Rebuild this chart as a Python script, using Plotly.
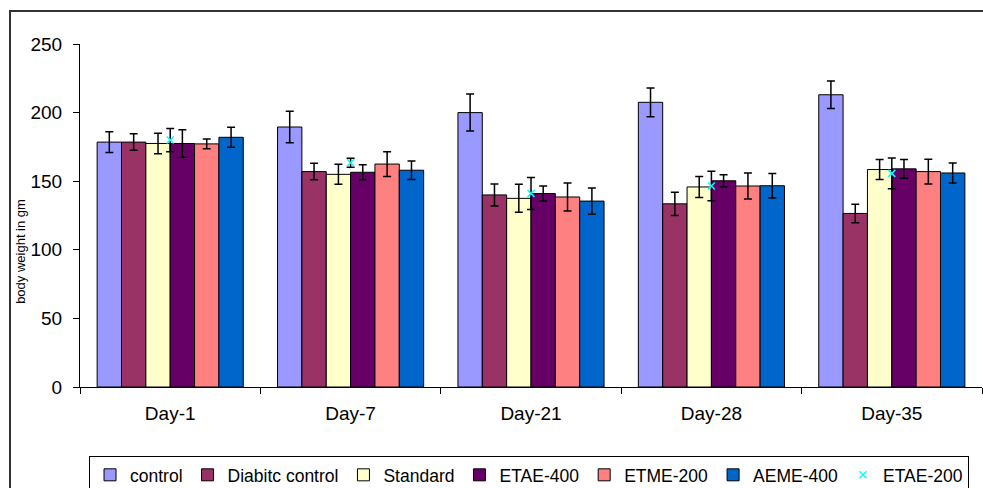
import plotly.graph_objects as go

days = ["Day-1", "Day-7", "Day-21", "Day-28", "Day-35"]

control = [178.5, 189.5, 200.0, 207.5, 213.0]
control_err = [7.5, 11.5, 13.5, 10.5, 10.0]
diabitc = [178.5, 157.0, 140.0, 133.5, 126.5]
diabitc_err = [6.0, 6.0, 8.0, 8.5, 6.7]
standard = [177.5, 155.0, 137.5, 145.8, 158.5]
standard_err = [7.5, 7.3, 10.2, 7.7, 7.3]
etae400 = [177.5, 156.5, 141.0, 150.3, 159.0]
etae400_err = [10.0, 5.5, 5.5, 4.4, 6.8]
etme200 = [177.2, 162.5, 138.5, 146.5, 157.0]
etme200_err = [3.5, 9.0, 10.2, 9.5, 9.0]
aeme400 = [182.0, 158.0, 135.5, 146.7, 156.0]
aeme400_err = [7.3, 6.7, 9.6, 9.0, 7.3]
etae200 = [180.0, 163.5, 141.0, 146.5, 155.7]
etae200_err = [8.5, 3.3, 11.7, 10.8, 11.2]

y_ticks = [0, 50, 100, 150, 200, 250]

bar_series = [
    ("control", control, control_err, "#9999FF"),
    ("Diabitc control", diabitc, diabitc_err, "#993366"),
    ("Standard", standard, standard_err, "#FFFFCC"),
    ("ETAE-400", etae400, etae400_err, "#660066"),
    ("ETME-200", etme200, etme200_err, "#FF8080"),
    ("AEME-400", aeme400, aeme400_err, "#0066CC"),
]

fig = go.Figure()
for name, vals, errs, col in bar_series:
    fig.add_trace(go.Bar(
        x=days, y=vals, name=name,
        marker=dict(color=col, line=dict(color="black", width=1)),
        error_y=dict(type="data", array=errs, visible=True,
                     color="black", thickness=1.5, width=4),
    ))

fig.add_trace(go.Scatter(
    x=days, y=etae200, name="ETAE-200", mode="markers",
    marker=dict(symbol="x-thin-open", size=7, color="#00FFFF",
                line=dict(color="#00FFFF", width=1.5)),
    error_y=dict(type="data", array=etae200_err, visible=True,
                 color="black", thickness=1.5, width=4),
))

font_family = "Liberation Sans, Arial, sans-serif"

fig.update_layout(
    width=983, height=488,
    margin=dict(l=80, r=1, t=44, b=101, autoexpand=False),
    paper_bgcolor="white", plot_bgcolor="white",
    barmode="group", bargap=0.19, bargroupgap=0,
    font=dict(family=font_family, color="black"),
    showlegend=True,
    legend=dict(
        orientation="h", x=0.01, y=-0.201, xanchor="left", yanchor="top",
        bgcolor="white", bordercolor="black", borderwidth=1,
        font=dict(size=17.5, family=font_family, color="black"),
        itemwidth=30, traceorder="normal",
    ),
    xaxis=dict(
        type="category", range=[-0.5, 4.5], showgrid=False,
        showline=True, linecolor="black", linewidth=1,
        ticks="outside", ticklen=6, tickcolor="black", tickson="boundaries",
        tickfont=dict(size=19, family=font_family, color="black"),
        ticklabelstandoff=9,
    ),
    yaxis=dict(
        range=[0, 250], tickvals=y_ticks, showgrid=False, zeroline=False,
        showline=True, linecolor="black", linewidth=1,
        ticks="outside", ticklen=6, tickcolor="black",
        tickfont=dict(size=19, family=font_family, color="black"),
        ticklabelstandoff=7,
    ),
    shapes=[dict(
        type="rect", xref="paper", yref="paper",
        x0=-0.0776, y0=-0.35, x1=1.05, y1=1.096,
        line=dict(color="#333333", width=2), fillcolor="rgba(0,0,0,0)",
        layer="below",
    )],
    annotations=[dict(
        text="body weight in gm", xref="paper", yref="paper",
        x=-0.0654, y=0.394, xanchor="center", yanchor="middle",
        showarrow=False, textangle=-90,
        font=dict(size=13, family=font_family, color="black"),
    )],
)

fig.write_html("out.html", config={"displayModeBar": False},
               post_script="document.body.style.margin='0';")
